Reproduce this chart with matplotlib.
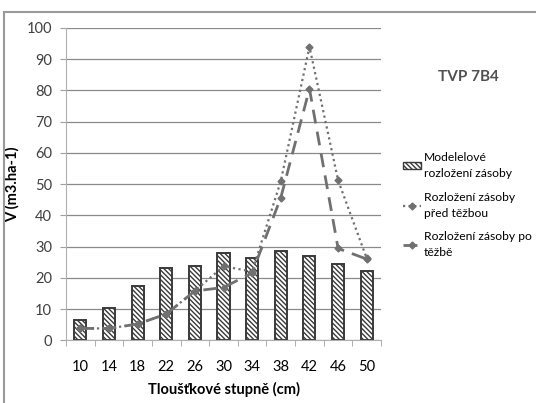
import matplotlib
matplotlib.use("Agg")
import matplotlib.pyplot as plt
from matplotlib.lines import Line2D
from matplotlib.patches import Patch
import numpy as np

plt.rcParams["font.family"] = ["Lato", "DejaVu Sans"]
plt.rcParams["hatch.linewidth"] = 1.0
plt.rcParams["hatch.color"] = "#3a3a3a"

# data
stupne = ["10", "14", "18", "22", "26", "30", "34", "38", "42", "46", "50"]
modelove = [6.5, 10.4, 17.3, 23.2, 23.8, 27.8, 26.4, 28.6, 27.0, 24.4, 22.1]
pred_tezbou = [3.8, 3.8, 5.2, 8.4, 15.8, 23.7, 22.0, 51.0, 94.0, 51.2, 26.2]
po_tezbe = [3.8, 3.8, 5.2, 8.4, 15.8, 16.9, 21.6, 45.7, 80.5, 29.4, 26.0]

HATCH = "\\" * 7
DOT = (0, (1, 1.5))
DASH = (0, (5, 3))

fig = plt.figure(figsize=(5.36, 4.03), dpi=100)
ax = fig.add_axes([0.123, 0.1556, 0.588, 0.775])

x = np.arange(len(stupne))
ax.bar(x, modelove, width=0.42, color="white", edgecolor="#3a3a3a",
       linewidth=1.4, hatch=HATCH, zorder=2)
ax.plot(x, pred_tezbou, color="#707070", linestyle=DOT, linewidth=1.6,
        marker="D", markersize=3.5, zorder=3)
ax.plot(x, po_tezbe, color="#707070", linestyle=DASH, linewidth=2.0,
        marker="D", markersize=3.5, zorder=3)

ax.set_xlim(-0.5, len(stupne) - 0.5)
ax.set_ylim(0, 100)
ax.set_yticks(np.arange(0, 101, 10))
ax.set_xticks(x)
ax.set_xticklabels(stupne)
ax.set_xticks(np.arange(-0.5, len(stupne)), minor=True)
ax.tick_params(axis="x", which="major", length=0, pad=14, labelsize=10.5, labelcolor="black")
ax.tick_params(axis="x", which="minor", length=4, color="#a0a0a0", direction="out")
ax.tick_params(axis="y", length=4, color="#a0a0a0", labelsize=10.5, labelcolor="#404040", pad=6)
ax.grid(axis="y", color="#8a8a8a", linewidth=0.9, zorder=0)
ax.set_axisbelow(True)
for side in ["top", "right"]:
    ax.spines[side].set_visible(False)
ax.spines["left"].set_color("#b0b0b0")
ax.spines["bottom"].set_color("#b0b0b0")

ax.set_xlabel("Tloušťkové stupně (cm)", fontsize=10.5, fontweight="bold", labelpad=6)
ax.set_ylabel("V (m3.ha-1)", fontsize=10.5, fontweight="bold", labelpad=5)

fig.text(0.873, 0.808, "TVP 7B4", fontsize=11, fontweight="bold", color="#505050",
         ha="center", va="center")

# legend
handles = [
    Patch(facecolor="white", edgecolor="#3a3a3a", hatch=HATCH),
    Line2D([], [], color="#707070", linestyle=DOT, linewidth=1.6,
           marker="D", markersize=3.5),
    Line2D([], [], color="#707070", linestyle=DASH, linewidth=2.0,
           marker="D", markersize=3.5),
]
labels = ["Modelelové\nrozložení zásoby", "Rozložení zásoby\npřed těžbou",
          "Rozložení zásoby po\ntěžbě"]
leg = fig.legend(handles, labels, loc="upper left", bbox_to_anchor=(0.742, 0.635),
                 frameon=False, fontsize=8.7, handlelength=1.5, handleheight=0.5,
                 handletextpad=0.25, labelspacing=1.05, borderaxespad=0)
for t in leg.get_texts():
    t.set_linespacing(1.55)

# outer frame (top and left edges visible in the reference)
fig.add_artist(Line2D([0.0075, 1.0], [0.97, 0.97], transform=fig.transFigure,
                      color="#9a9a9a", linewidth=1.5))
fig.add_artist(Line2D([0.0075, 0.0075], [0.0, 0.97], transform=fig.transFigure,
                      color="#9a9a9a", linewidth=1.5))

fig.savefig("out.png", dpi=100)
